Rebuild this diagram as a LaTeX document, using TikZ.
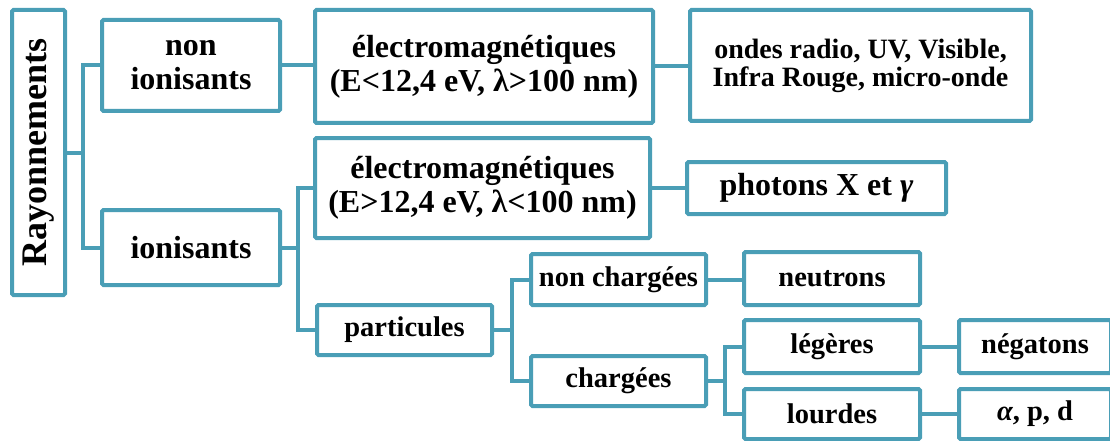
\documentclass[tikz,border=0pt]{standalone}
\usepackage{fontspec}
\setmainfont{Liberation Serif}
\usetikzlibrary{positioning, calc}
\definecolor{rayteal}{RGB}{74,158,182}

\begin{document}
\begin{tikzpicture}[x=1pt, y=-1pt, line width=4pt]
        % Style definitions
        \tikzstyle{cat} = [draw=rayteal, fill=white, rectangle, rounded corners=1.5pt, align=center, inner sep=0pt, font=\fontsize{32}{34}\selectfont\bfseries]
        \tikzstyle{row} = [cat, font=\fontsize{28.5}{30}\selectfont\bfseries]
        \tikzstyle{small} = [cat, font=\fontsize{28}{28}\selectfont\bfseries]
        \tikzstyle{link} = [draw=rayteal, line width=4pt]

        \useasboundingbox (0,0) rectangle (1110,441);

        % Root
        \node [cat, rotate=90, minimum width=285pt, minimum height=53pt, font=\fontsize{36}{40}\selectfont\bfseries] (ray) at (38.5,152.5) {Rayonnements};

        % Level 1
        \node [cat, minimum width=178pt, minimum height=91pt] (nonion) at (191,65.5) {non\\ionisants};
        \node [cat, minimum width=178pt, minimum height=75pt] (ion) at (191,247.5) {ionisants};

        % Level 2
        \node [cat, minimum width=338pt, minimum height=113pt] (elecA) at (484,66.5) {électromagnétiques\\(E<12,4 eV, λ>100 nm)};
        \node [cat, minimum width=335pt, minimum height=100pt] (elecB) at (482.5,188) {électromagnétiques\\(E>12,4 eV, λ<100 nm)};
        \node [row, minimum width=175pt, minimum height=50pt] (partic) at (404.5,330) {particules};

        % Level 3
        \node [small, minimum width=341pt, minimum height=111pt] (ondes) at (860.5,65.5) {ondes radio, UV, Visible,\\Infra Rouge, micro-onde};
        \node [cat, minimum width=259pt, minimum height=52pt] (photons) at (816.5,188) {photons X et \textit{γ}};
        \node [row, minimum width=175pt, minimum height=51pt] (nonch) at (618.5,279.5) {non chargées};
        \node [row, minimum width=175pt, minimum height=50pt] (charg) at (618.5,381) {chargées};

        % Level 4
        \node [row, minimum width=176pt, minimum height=53pt] (neutr) at (832,278.5) {neutrons};
        \node [row, minimum width=176pt, minimum height=53pt] (leg) at (832,346.5) {légères};
        \node [row, minimum width=176pt, minimum height=50pt] (lourd) at (832,414) {lourdes};

        % Level 5
        \node [row, minimum width=152pt, minimum height=53pt] (neg) at (1035,346.5) {négatons};
        \node [row, minimum width=152pt, minimum height=50pt] (alpha) at (1035,414) {\textit{α}, p, d};

        % Branch points
        \coordinate (jRay) at (83,152.5);
        \coordinate (jIon) at (298,247.5);
        \coordinate (jPart) at (512,330);
        \coordinate (jCharg) at (725,381);

        % Connectors
        \draw [link] (ray.south) -- (jRay);
        \draw [link] (jRay) |- (nonion.west);
        \draw [link] (jRay) |- (ion.west);
        \draw [link] (nonion.east) -- (nonion.east -| elecA.west);
        \draw [link] (elecA.east) -- (elecA.east -| ondes.west);
        \draw [link] (ion.east) -- (jIon);
        \draw [link] (jIon) |- (elecB.west);
        \draw [link] (jIon) |- (partic.west);
        \draw [link] (elecB.east) -- (photons.west);
        \draw [link] (partic.east) -- (jPart);
        \draw [link] (jPart) |- (nonch.west);
        \draw [link] (jPart) |- (charg.west);
        \draw [link] (nonch.east) -- (nonch.east -| neutr.west);
        \draw [link] (charg.east) -- (jCharg);
        \draw [link] (jCharg) |- (leg.west);
        \draw [link] (jCharg) |- (lourd.west);
        \draw [link] (leg.east) -- (neg.west);
        \draw [link] (lourd.east) -- (alpha.west);
    \end{tikzpicture}
\end{document}
